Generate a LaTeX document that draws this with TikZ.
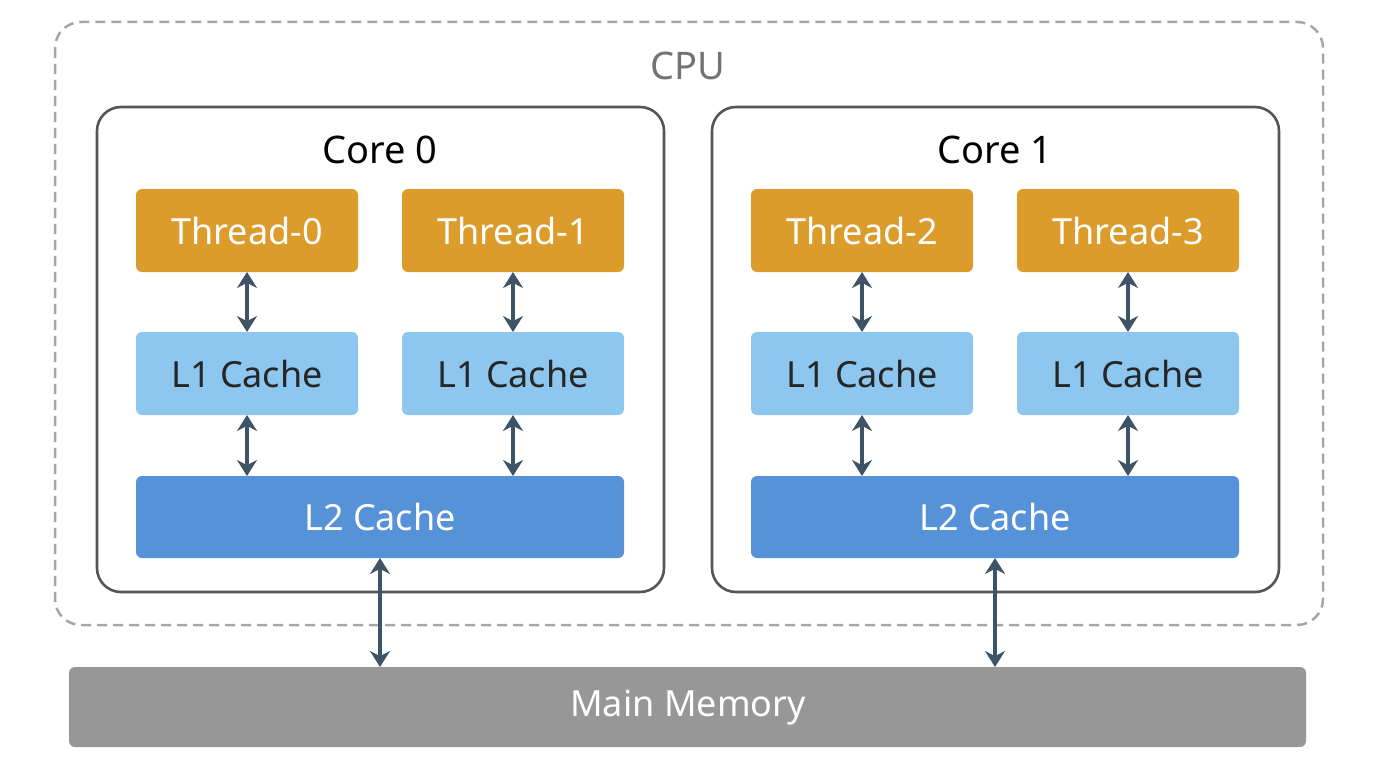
\documentclass[tikz,border=0pt]{standalone}
\usepackage{fontspec}
\setmainfont{Noto Sans}
\usetikzlibrary{arrows.meta}
\definecolor{thr}{HTML}{DC9C2C}
\definecolor{lone}{HTML}{8DC6EE}
\definecolor{ltwo}{HTML}{5592D8}
\definecolor{mem}{HTML}{979797}
\definecolor{arr}{HTML}{3E5366}
\definecolor{core}{HTML}{555555}
\begin{document}
\begin{tikzpicture}[x=1pt,y=-1pt,
  box/.style={rounded corners=6pt,text=white,font=\fontsize{36}{40}\selectfont,inner sep=0},
  corebox/.style={draw=core,line width=2.6pt,rounded corners=24pt},
  bi/.style={arr,line width=3.2pt,{Stealth[length=16pt,width=20pt]}-{Stealth[length=16pt,width=20pt]}}]
\useasboundingbox (0,0) rectangle (1376,768);
\draw[gray!70,line width=2.5pt,dash pattern=on 10pt off 6pt,rounded corners=26pt] (55,22) rectangle (1323,625);
\node[text=gray!90!black,font=\fontsize{38}{42}\selectfont] (cpu) at (688,66) {CPU};
\foreach \i/\ox/\ta/\tb in {0/0/0/1,1/615/2/3}{
  \draw[corebox] (97+\ox,107) rectangle (664+\ox,592);
  \node[font=\fontsize{38}{42}\selectfont] (core\i) at (380+\ox,150) {Core \i};
  \fill[thr,rounded corners=6pt] (136+\ox,189) rectangle (358+\ox,272);
  \node[box] (ta\i) at (247+\ox,231) {Thread-\ta};
  \fill[thr,rounded corners=6pt] (402+\ox,189) rectangle (624+\ox,272);
  \node[box] (tb\i) at (513+\ox,231) {Thread-\tb};
  \fill[lone,rounded corners=6pt] (136+\ox,332) rectangle (358+\ox,415);
  \node[box,text=black!85] (la\i) at (247+\ox,374) {L1 Cache};
  \fill[lone,rounded corners=6pt] (402+\ox,332) rectangle (624+\ox,415);
  \node[box,text=black!85] (lb\i) at (513+\ox,374) {L1 Cache};
  \fill[ltwo,rounded corners=6pt] (136+\ox,476) rectangle (624+\ox,558);
  \node[box] (l2\i) at (380+\ox,517) {L2 Cache};
  \coordinate (a1\i) at (247+\ox,272); \coordinate (a2\i) at (247+\ox,332);
  \coordinate (a3\i) at (247+\ox,415); \coordinate (a4\i) at (247+\ox,476);
  \coordinate (b1\i) at (513+\ox,272); \coordinate (b2\i) at (513+\ox,332);
  \coordinate (b3\i) at (513+\ox,415); \coordinate (b4\i) at (513+\ox,476);
  \coordinate (m1\i) at (380+\ox,558); \coordinate (m2\i) at (380+\ox,667);
  \draw[bi] (a1\i)--(a2\i); \draw[bi] (a3\i)--(a4\i);
  \draw[bi] (b1\i)--(b2\i); \draw[bi] (b3\i)--(b4\i);
  \draw[bi] (m1\i)--(m2\i);
}
\fill[mem,rounded corners=6pt] (69,667) rectangle (1306,747);
\node[box] (mm) at (688,708) {Main Memory};
\end{tikzpicture}
\end{document}
